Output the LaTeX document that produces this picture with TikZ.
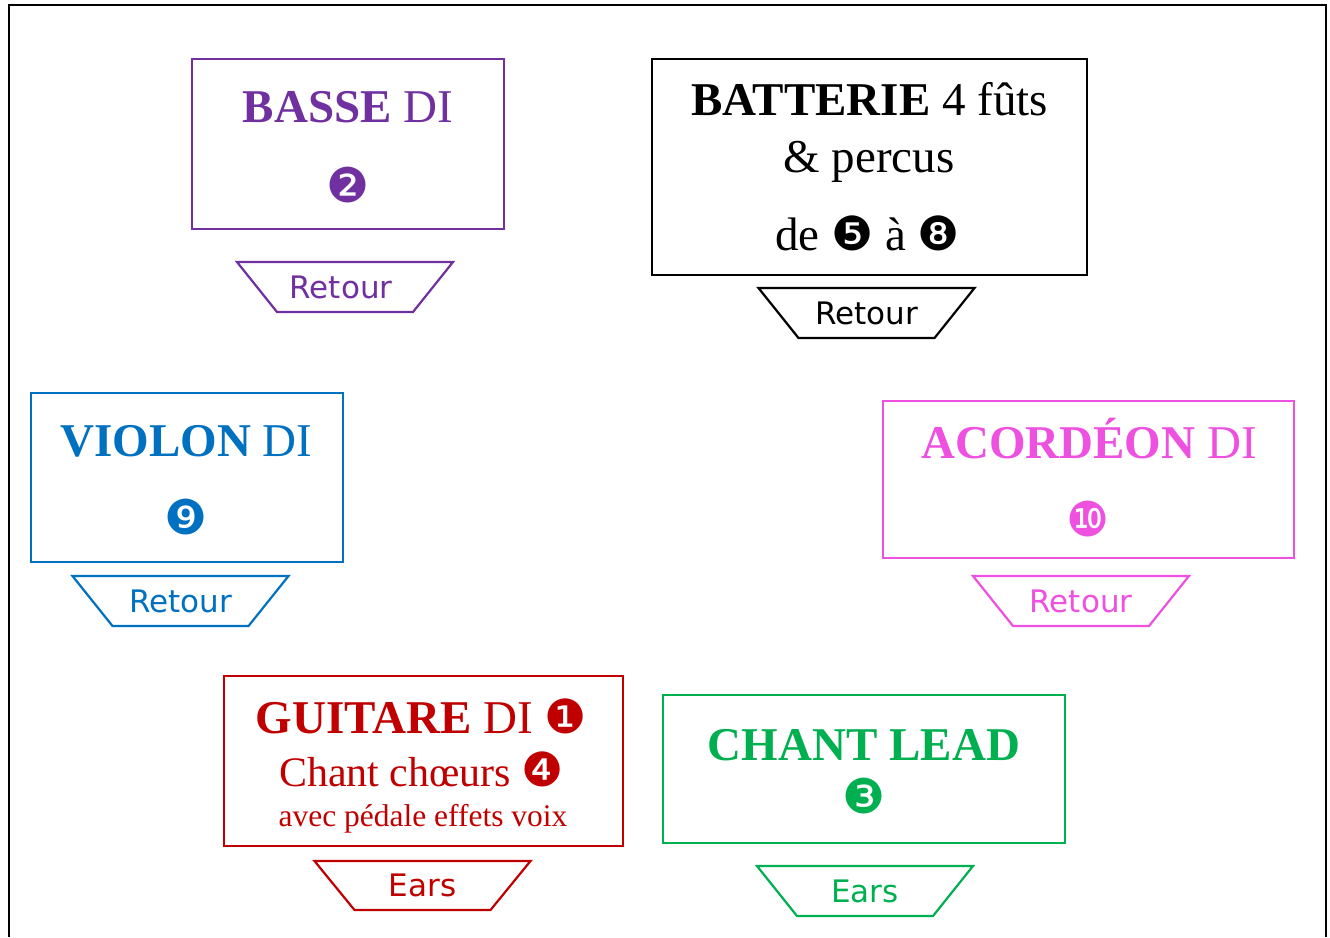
\documentclass[tikz,border=0pt]{standalone}
\usepackage{fontspec}
\setmainfont{Liberation Serif}
\newfontfamily\monfont{DejaVu Sans}
\usepackage{tikz}
\definecolor{bassecol}{RGB}{112,48,160}
\definecolor{violoncol}{RGB}{0,112,192}
\definecolor{accordcol}{RGB}{238,80,224}
\definecolor{guitarecol}{RGB}{192,0,0}
\definecolor{chantcol}{RGB}{0,176,80}
\newcommand{\puce}[1]{{\monfont\fontsize{47}{54}\selectfont #1}}

\begin{document}
\begin{tikzpicture}[x=1pt,y=-1pt,
    boxframe/.style={draw,line width=1.1pt,inner sep=0pt},
    title/.style={anchor=base,inner sep=0pt,font=\fontsize{47}{56}\selectfont},
    subline/.style={anchor=base,inner sep=0pt,font=\fontsize{42}{48}\selectfont},
    smallline/.style={anchor=base,inner sep=0pt,font=\fontsize{31.5}{36}\selectfont},
    numdot/.style={inner sep=0pt,font=\monfont\fontsize{48}{54}\selectfont},
    montext/.style={inner sep=0pt,font=\monfont\fontsize{31}{36}\selectfont},
    monline/.style={line width=2.2pt,line join=miter}]
      \useasboundingbox (0,0) rectangle (1330,937);
      \draw [line width=2pt] (9,937) -- (9,5) -- (1326,5) -- (1326,937);
      % basse
      \node [boxframe,bassecol,minimum width=312,minimum height=170] (basse) at (348,144) {};
      \node [title,bassecol] (bassetitle) at (348,122) {\textbf{BASSE} DI};
      \node [numdot,bassecol] (bassenum) at (348,185) {❷};
      \node [montext,bassecol] (bassemon) at (341,287) {Retour};
      \draw [monline,bassecol] ([xshift=4]bassemon.center) +(-108,-25) -- +(108,-25) -- +(68,25) -- +(-68,25) -- cycle;
      % batterie
      \node [boxframe,minimum width=435,minimum height=216] (batterie) at (869.5,167) {};
      \node [title] (batterietitle) at (869.5,115) {\textbf{BATTERIE} 4 fûts};
      \node [title] (batteriepercus) at (869,172) {\& percus};
      \node [title] (batterienum) at (867.5,250) {de \puce{❺} à \puce{❽}};
      \node [montext] (batteriemon) at (866.5,313) {Retour};
      \draw [monline] (batteriemon.center) +(-108,-25) -- +(108,-25) -- +(68,25) -- +(-68,25) -- cycle;
      % violon
      \node [boxframe,violoncol,minimum width=312,minimum height=169] (violon) at (187,477.5) {};
      \node [title,violoncol] (violontitle) at (186.5,456) {\textbf{VIOLON} DI};
      \node [numdot,violoncol] (violonnum) at (186,517) {❾};
      \node [montext,violoncol] (violonmon) at (180.5,601) {Retour};
      \draw [monline,violoncol] (violonmon.center) +(-108,-25) -- +(108,-25) -- +(68,25) -- +(-68,25) -- cycle;
      % accordeon
      \node [boxframe,accordcol,minimum width=411,minimum height=157] (accord) at (1088.5,479.5) {};
      \node [title,accordcol] (accordtitle) at (1089,458) {\textbf{ACORDÉON} DI};
      \node [numdot,accordcol] (accordnum) at (1088,519) {❿};
      \node [montext,accordcol] (accordmon) at (1081,601) {Retour};
      \draw [monline,accordcol] (accordmon.center) +(-108,-25) -- +(108,-25) -- +(68,25) -- +(-68,25) -- cycle;
      % guitare
      \node [boxframe,guitarecol,minimum width=399,minimum height=170] (guitare) at (423.5,761) {};
      \node [title,guitarecol] (guitaretitle) at (421.5,733) {\textbf{GUITARE} DI \puce{❶}};
      \node [subline,guitarecol] (guitarechoeurs) at (421.5,786) {Chant chœurs \puce{❹}};
      \node [smallline,guitarecol] (guitarepedale) at (423,826) {avec pédale effets voix};
      \node [montext,guitarecol] (guitaremon) at (422.5,885.5) {Ears};
      \draw [monline,guitarecol] (guitaremon.center) +(-108,-24.5) -- +(108,-24.5) -- +(68,24.5) -- +(-68,24.5) -- cycle;
      % chant lead
      \node [boxframe,chantcol,minimum width=402,minimum height=148] (chant) at (864,769) {};
      \node [title,chantcol] (chanttitle) at (864,760) {\textbf{CHANT LEAD}};
      \node [numdot,chantcol] (chantnum) at (864,796) {❸};
      \node [montext,chantcol] (chantmon) at (865,891) {Ears};
      \draw [monline,chantcol] (chantmon.center) +(-108,-25) -- +(108,-25) -- +(68,25) -- +(-68,25) -- cycle;
\end{tikzpicture}
\end{document}
